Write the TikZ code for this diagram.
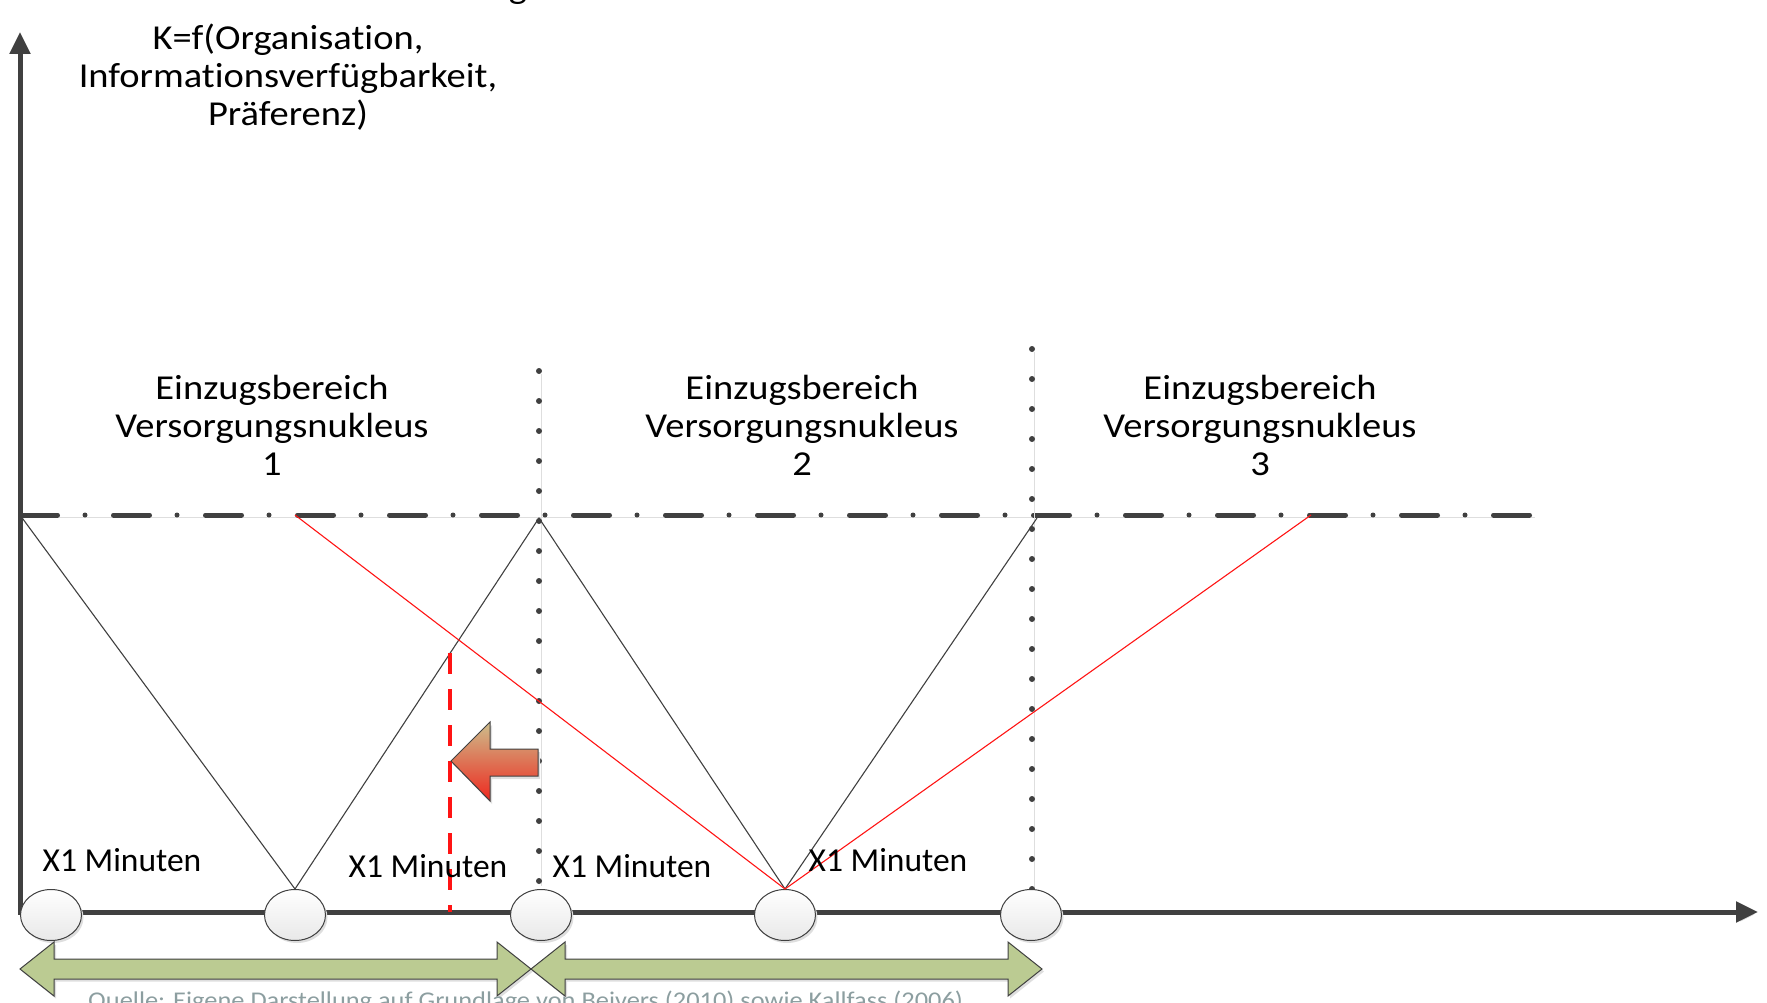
\documentclass[tikz,border=0pt]{standalone}
\usepackage{fontspec}
\setmainfont{Carlito}[Ligatures=NoCommon]
\newfontfamily\widefont{Carlito}[FakeStretch=1.1,Ligatures=NoCommon]
\usetikzlibrary{arrows.meta,shapes.geometric,calc}

\definecolor{axisgray}{RGB}{64,64,64}
\definecolor{shadowgray}{RGB}{222,222,222}
\definecolor{arrowgreen}{RGB}{187,203,146}
\definecolor{captiongray}{RGB}{140,158,160}
\definecolor{arrowtan}{RGB}{205,190,140}
\definecolor{arrowred}{RGB}{238,40,30}
\definecolor{linered}{RGB}{255,20,20}

\begin{document}
\begin{tikzpicture}[x=1pt,y=-1pt,
  shadowed/.style={preaction={draw=shadowgray,transform canvas={xshift=2pt,yshift=-2.5pt}}},
  axisline/.style={draw=axisgray,line width=5pt,shadowed},
  dashdotline/.style={draw=axisgray,line width=5pt,line cap=round,
    dash pattern=on 36pt off 27.5pt on 0pt off 28.5pt,shadowed},
  dotline/.style={draw=axisgray,line width=6pt,line cap=round,
    dash pattern=on 0pt off 30pt,shadowed},
  thinline/.style={draw=axisgray,line width=1.1pt},
  redline/.style={draw=linered,line width=1.1pt},
  reddash/.style={draw=linered,line width=3.5pt,dash pattern=on 21pt off 15pt},
  nucleus/.style={ellipse,draw=axisgray,line width=1pt,minimum width=61pt,
    minimum height=51pt,inner sep=0pt,top color=white,bottom color=gray!18},
  lbl/.style={align=center,font=\widefont\fontsize{35}{38}\selectfont,inner sep=0pt},
  minlbl/.style={font=\fontsize{33.5}{38}\selectfont,inner sep=0pt},
  blockarrow/.style={draw=axisgray,line width=1pt},
]
\clip (0,0) rectangle (1767,1003);

% axes
\draw[axisline,{Triangle[length=22pt,width=20pt]}-{Triangle[length=22pt,width=20pt]},line join=miter]
  (20,32) -- (20,912) -- (1758,912);

% level line of the catchment areas
\draw[dashdotline] (21.5,515) -- (1533,515);

% borders between the catchment areas
\draw[dotline] (539,371) -- (539,883);
\draw[dotline] (1032,349) -- (1032,891);

% supply nuclei on the time axis
\foreach \i/\x in {1/51,2/295,3/541,4/785,5/1031}{
  \fill[shadowgray] (\x+2,917.5) ellipse (30.5pt and 25.5pt);
  \node[nucleus] (e\i) at (\x,915) {};
}

% apex points on the level line
\coordinate (a0) at (20,515);
\coordinate (a1) at (539,518);
\coordinate (a2) at (1037,518);
\coordinate (r1) at (295,515);
\coordinate (r2) at (1311,515);

% catchment triangles
\draw[thinline] (a0) -- (e2.north) -- (a1) -- (e4.north) -- (a2);
\draw[redline] (r1) -- (e4.north) -- (r2);

% shifted border
\coordinate (dtop) at ($(e2.north)!0.635!(a1)$);
\coordinate (dbot) at (dtop |- 0,912);
\draw[reddash] (dtop) -- (dbot);

% shift arrow
\fill[shadowgray] (453,764) -- (492,725) -- (492,752) -- (540,752) -- (540,779)
  -- (492,779) -- (492,804) -- cycle;
\shade[top color=arrowtan,bottom color=arrowred] (451,761) -- (490,722) -- (490,749)
  -- (538,749) -- (538,776) -- (490,776) -- (490,801) -- cycle;
\draw[blockarrow] (451,761) -- (490,722) -- (490,749) -- (538,749) -- (538,776)
  -- (490,776) -- (490,801) -- cycle;

% distance arrows
\foreach \l/\r in {20/531,531/1042}{
  \fill[shadowgray] (\l+2,971.5) -- (\l+36,944.5) -- (\l+36,961.5) -- (\r-32,961.5)
    -- (\r-32,944.5) -- (\r+2,971.5) -- (\r-32,998.5) -- (\r-32,981.5)
    -- (\l+36,981.5) -- (\l+36,998.5) -- cycle;
  \draw[blockarrow,fill=arrowgreen] (\l,969) -- (\l+34,942) -- (\l+34,959) -- (\r-34,959)
    -- (\r-34,942) -- (\r,969) -- (\r-34,996) -- (\r-34,979)
    -- (\l+34,979) -- (\l+34,996) -- cycle;
}

% labels
\node[lbl,anchor=base] (topg) at (518,-1) {g};
\node[lbl] (k) at (288,77) {K=f(Organisation,\\Informationsverfügbarkeit,\\Präferenz)};
\node[lbl] (n1) at (272,425) {Einzugsbereich\\Versorgungsnukleus\\1};
\node[lbl] (n2) at (802,425) {Einzugsbereich\\Versorgungsnukleus\\2};
\node[lbl] (n3) at (1260,425) {Einzugsbereich\\Versorgungsnukleus\\3};
\node[minlbl] (m1) at (122,860) {X1 Minuten};
\node[minlbl] (m2) at (428,866) {X1 Minuten};
\node[minlbl] (m3) at (632,866) {X1 Minuten};
\node[minlbl] (m4) at (888,860) {X1 Minuten};
\node[anchor=base west,inner sep=0pt,font=\widefont\fontsize{24}{28}\selectfont,text=captiongray]
  (src) at (88,1008) {Quelle: Eigene Darstellung auf Grundlage von Beivers (2010) sowie Kallfass (2006)};
\end{tikzpicture}
\end{document}
